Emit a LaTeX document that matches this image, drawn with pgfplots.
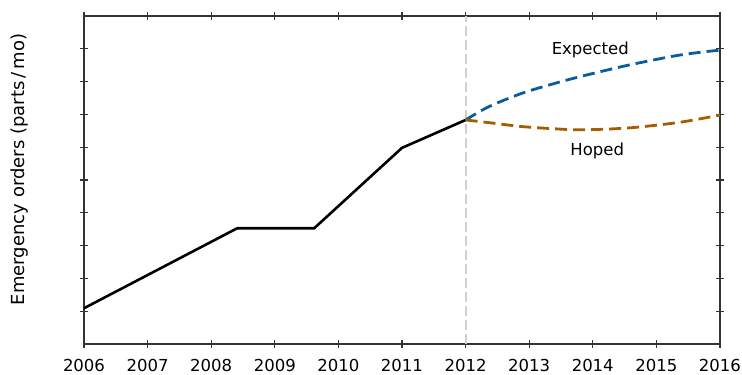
\documentclass[border=0pt]{standalone}
\usepackage{pgfplots}
\pgfplotsset{compat=1.18}
\usepackage{fontspec}
\setmainfont{DejaVu Sans}
\definecolor{axgray}{HTML}{333333}
\definecolor{expblue}{HTML}{0B5C9E}
\definecolor{hopeorange}{HTML}{A65C00}
\definecolor{vgray}{HTML}{CFCFCF}
\begin{document}
\begin{tikzpicture}[font=\fontsize{16.5bp}{19bp}\selectfont]
\path[use as bounding box] (-84bp,-31bp) rectangle (658bp,344bp);
\begin{axis}[
  at={(0,0)}, anchor=south west,
  scale only axis, width=636bp, height=328bp,
  xmin=2006, xmax=2016, ymin=0, ymax=10,
  xtick={2006,...,2016}, ytick={1,...,9}, yticklabels={},
  /pgf/number format/assume math mode=true,
  xticklabel={\pgfmathprintnumber[1000 sep={}]{\tick}},
  xticklabel style={yshift=-8bp, font=\fontsize{16.5bp}{19bp}\selectfont},
  tick align=center, major tick length=8bp,
  axis line style={axgray, line width=1.6bp},
  tick style={axgray, line width=1.3bp},
  ylabel={Emergency orders (parts\,/\,mo)},
  ylabel style={at={(rel axis cs:0,0.532)}, anchor=center, yshift=64bp, font=\fontsize{18bp}{21bp}\selectfont},
  clip=false,
]
\addplot[vgray, line width=1.8bp, dash pattern=on 10bp off 4bp] coordinates {(2012,0) (2012,10)};
\addplot[black, line width=2.6bp] coordinates {
  (2006,1.09) (2008.41,3.53) (2009.62,3.53) (2011,5.98) (2012,6.83)};
\addplot[expblue, line width=2.8bp, dash pattern=on 12bp off 6bp, smooth] coordinates {
  (2012,6.83) (2012.36,7.23) (2012.88,7.64) (2013.41,7.95) (2013.88,8.19) (2014.58,8.51) (2015.37,8.81) (2016,8.96)};
\addplot[hopeorange, line width=2.8bp, dash pattern=on 12bp off 6bp, smooth] coordinates {
  (2012,6.83) (2012.36,6.75) (2012.88,6.63) (2013.41,6.56) (2013.85,6.53) (2014.58,6.59) (2015.37,6.76) (2016,6.98)};
\node[text=black] at (axis cs:2013.96,8.96) {Expected};
\node[text=black] at (axis cs:2014.07,5.88) {Hoped};
\end{axis}
\end{tikzpicture}
\end{document}
